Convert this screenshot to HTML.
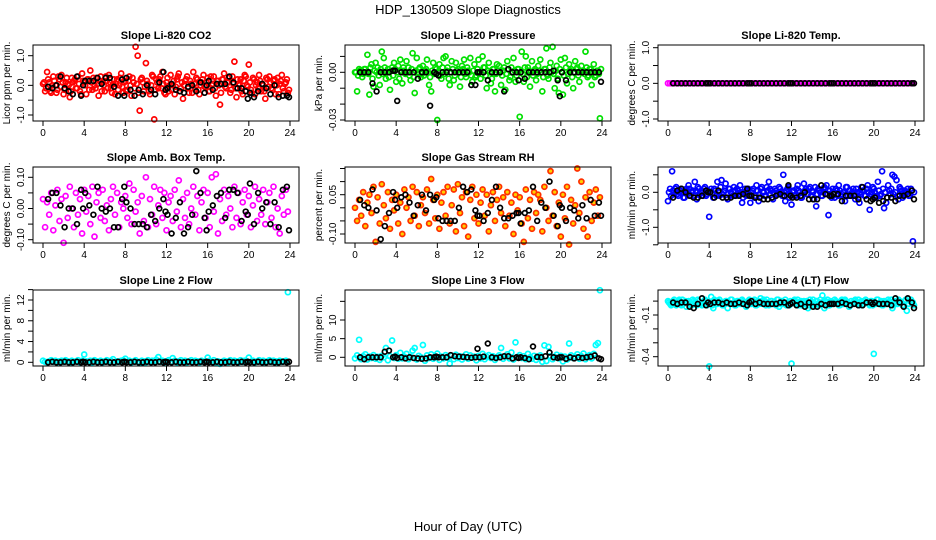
<!DOCTYPE html>
<html><head><meta charset="utf-8"><style>
html,body{margin:0;padding:0;background:#fff;}
svg{display:block;font-family:"Liberation Sans",Arial,sans-serif;}
</style></head><body>
<svg id="chart" width="936" height="540" viewBox="0 0 936 540">
<text x="468" y="14" text-anchor="middle" font-size="13">HDP_130509  Slope Diagnostics</text>
<text x="468" y="531" text-anchor="middle" font-size="13">Hour of Day (UTC)</text>
</svg>
<script>
// shared hours
const cH=[0,0.2,0.4,0.6,0.8,1,1.2,1.4,1.6,1.8,2,2.2,2.4,2.6,2.8,3,3.2,3.4,3.6,3.8,4,4.2,4.4,4.6,4.8,5,5.2,5.4,5.6,5.8,6,6.2,6.4,6.6,6.8,7,7.2,7.4,7.6,7.8,8,8.2,8.4,8.6,8.8,9,9.2,9.4,9.6,9.8,10,10.2,10.4,10.6,10.8,11,11.2,11.4,11.6,11.8,12,12.2,12.4,12.6,12.8,13,13.2,13.4,13.6,13.8,14,14.2,14.4,14.6,14.8,15,15.2,15.4,15.6,15.8,16,16.2,16.4,16.6,16.8,17,17.2,17.4,17.6,17.8,18,18.2,18.4,18.6,18.8,19,19.2,19.4,19.6,19.8,20,20.2,20.4,20.6,20.8,21,21.2,21.4,21.6,21.8,22,22.2,22.4,22.6,22.8,23,23.2,23.4,23.6,23.8];
const cH2=[0.1,0.3,0.5,0.7,0.9,1.1,1.3,1.5,1.7,1.9,2.1,2.3,2.5,2.7,2.9,3.1,3.3,3.5,3.7,3.9,4.1,4.3,4.5,4.7,4.9,5.1,5.3,5.5,5.7,5.9,6.1,6.3,6.5,6.7,6.9,7.1,7.3,7.5,7.7,7.9,8.1,8.3,8.5,8.7,8.9,9.1,9.3,9.5,9.7,9.9,10.1,10.3,10.5,10.7,10.9,11.1,11.3,11.5,11.7,11.9,12.1,12.3,12.5,12.7,12.9,13.1,13.3,13.5,13.7,13.9,14.1,14.3,14.5,14.7,14.9,15.1,15.3,15.5,15.7,15.9,16.1,16.3,16.5,16.7,16.9,17.1,17.3,17.5,17.7,17.9,18.1,18.3,18.5,18.7,18.9,19.1,19.3,19.5,19.7,19.9,20.1,20.3,20.5,20.7,20.9,21.1,21.3,21.5,21.7,21.9,22.1,22.3,22.5,22.7,22.9,23.1,23.3,23.5,23.7,23.9];
const bH=[0.5,0.9,1.3,1.7,2.1,2.5,2.9,3.3,3.7,3.9,4.1,4.5,4.9,5.3,5.7,6.1,6.5,6.9,7.3,7.7,7.9,8.1,8.5,8.9,9.3,9.7,10.1,10.5,10.9,11.3,11.7,11.9,12.1,12.5,12.9,13.3,13.7,14.1,14.5,14.9,15.3,15.7,15.9,16.1,16.5,16.9,17.3,17.7,18.1,18.5,18.9,19.3,19.7,19.9,20.1,20.5,20.9,21.3,21.7,22.1,22.5,22.9,23.3,23.7,23.9];
const xTicks=[0,4,8,12,16,20,24];

const co2=[0.05,-0.2,0.45,0.1,-0.25,0.3,0.0,-0.15,0.2,0.35,-0.3,0.1,0.05,-0.4,0.25,0.15,-0.1,0.3,-0.2,0.4,0.1,-0.3,0.2,0.5,-0.15,0.0,0.25,-0.35,0.3,0.1,-0.2,0.15,0.35,-0.1,0.05,-0.3,0.2,0.0,0.4,-0.25,0.15,-0.15,0.3,-0.35,0.1,1.3,1.0,-0.85,0.25,-0.2,0.75,0.05,-0.3,0.35,-1.15,0.2,-0.1,0.3,0.45,-0.25,0.1,-0.2,0.35,0.0,-0.3,0.2,0.4,-0.1,-0.45,0.15,0.3,-0.25,0.05,0.45,-0.15,0.2,-0.3,0.1,0.35,-0.05,0.25,-0.2,0.0,0.3,-0.35,0.15,-0.65,0.2,0.4,-0.1,0.1,-0.25,0.3,0.8,-0.4,0.05,0.2,-0.3,0.35,0.0,0.7,-0.15,0.25,-0.3,0.1,0.35,-0.2,0.0,-0.45,0.2,0.3,-0.1,0.15,-0.3,0.25,0.05,0.35,-0.2,0.1,-0.25];
const co2B=[0.1,-0.1,0.2,-0.2,0.0,0.15,-0.25,0.3,-0.05,0.1,-0.15,0.25,0.0,-0.2,0.1,0.2,-0.1,0.05,-0.3,0.15,0.0,0.2,-0.15,0.1,0.25,-0.1,0.05,0.15,-0.2,0.0,0.3,-0.1,0.1,-0.25,0.2,0.05,-0.15,0.25,-0.05,0.1,-0.2,0.15,0.0,0.25,-0.1,0.05,-0.25,0.2,0.1,-0.05,0.15,-0.2,0.0,0.3,-0.15,0.1,0.2,-0.1,0.05,-0.3,0.25,0.0,-0.15,0.15,-0.05,0.3,-0.2,0.1,0.0,0.2,-0.1,0.15,-0.25,0.05,0.25,-0.15,0.0,0.2,-0.05,0.1,-0.2,0.3,0.05,-0.1,0.15,0.0,-0.25,0.2,-0.05,0.1,0.25,-0.15,0.05,-0.1,0.2,0.0,-0.2,0.15,0.3,-0.05,0.1,-0.25,0.2,0.0,-0.1,0.15,0.05,-0.2,0.25,-0.05,0.1,-0.15,0.2,0.0,-0.3,0.15,-0.1,0.05,0.2,-0.15];
const co2K=[-0.05,-0.1,0.0,0.3,-0.1,-0.2,-0.3,0.3,-0.35,0.0,0.15,0.15,0.15,0.25,0.05,0.25,0.25,-0.05,-0.35,0.2,-0.35,0.25,-0.15,-0.35,-0.15,-0.3,0.0,-0.15,-0.3,0.1,0.45,-0.15,-0.1,0.05,-0.15,-0.2,-0.25,-0.05,0.0,-0.2,0.1,-0.25,0.0,0.15,-0.15,0.05,0.05,0.05,0.3,0.1,-0.1,-0.1,-0.2,-0.45,-0.25,-0.4,-0.2,0.05,-0.1,-0.3,0.0,-0.4,-0.35,-0.35,-0.4];
const pres=[0.0,-0.012,0.002,0.001,-0.001,0.002,0.011,-0.014,0.005,-0.009,0.006,0.003,-0.008,0.013,0.009,-0.004,0.002,-0.011,0.003,0.006,-0.006,0.004,0.008,-0.007,0.001,0.007,0.003,-0.005,0.012,-0.013,0.009,0.002,-0.003,0.004,0.001,0.008,-0.008,-0.012,0.006,0.003,-0.030,0.005,-0.004,0.009,0.010,0.003,-0.008,0.007,-0.005,0.006,0.002,-0.009,0.004,0.008,-0.003,0.001,0.009,-0.006,0.005,-0.002,0.008,-0.004,0.010,0.003,-0.010,0.006,-0.007,0.002,-0.012,0.005,0.004,-0.008,0.001,-0.011,0.007,-0.005,0.003,0.009,-0.006,0.002,-0.028,0.013,-0.006,0.010,0.003,-0.009,0.007,0.001,-0.005,0.004,0.008,-0.012,0.002,0.015,-0.004,0.006,0.016,-0.010,0.004,-0.013,0.008,-0.014,0.009,-0.007,0.005,0.002,-0.010,0.007,0.003,-0.006,0.004,0.001,0.013,-0.003,0.002,-0.008,0.005,-0.002,0.001,-0.029];
const presB=[0.0,-0.002,0.001,-0.003,0.002,0.0,-0.001,0.003,-0.004,0.001,0.0,-0.002,0.002,-0.001,0.003,0.0,-0.003,0.001,-0.002,0.002,0.0,-0.004,0.001,0.003,-0.001,0.0,-0.002,0.002,-0.003,0.001,0.0,0.003,-0.001,-0.002,0.002,0.0,-0.003,0.001,-0.001,0.002,0.0,-0.002,0.003,-0.001,0.001,-0.004,0.0,0.002,-0.002,0.001,0.0,-0.003,0.002,-0.001,0.003,0.0,-0.002,0.001,-0.003,0.002,0.0,-0.001,0.003,-0.002,0.001,0.0,-0.004,0.002,-0.001,0.001,0.0,-0.002,0.003,-0.001,0.002,-0.003,0.0,0.001,-0.002,0.002,0.0,-0.001,0.003,-0.003,0.001,0.0,-0.002,0.002,-0.001,0.001,0.0,-0.003,0.002,-0.002,0.003,0.0,-0.001,0.001,-0.004,0.002,0.0,-0.002,0.003,-0.001,0.001,-0.003,0.0,0.002,-0.002,0.001,0.0,-0.001,0.003,-0.002,0.002,0.0,-0.003,0.001,-0.001,0.002];
const presK=[0.0,0.0,0.0,-0.007,-0.012,0.0,0.0,0.0,0.001,0.001,-0.018,0.0,0.0,0.0,0.0,-0.004,0.0,0.0,-0.021,0.0,-0.001,-0.002,0.0,0.0,0.0,0.0,0.0,0.0,0.0,-0.008,-0.008,0.0,0.0,0.0,-0.005,0.0,0.0,0.0,-0.012,0.002,0.0,0.0,-0.005,0.0,-0.004,0.0,0.0,0.0,0.0,0.0,0.0,0.001,-0.005,-0.015,0.0,-0.005,0.0,0.0,0.0,0.0,0.0,0.0,0.0,0.0,-0.006,0.005];
const temp=[0,0,0,0,0,0,0,0,0,0,0,0,0,0,0,0,0,0,0,0,0,0,0,0,0,0,0,0,0,0,0,0,0,0,0,0,0,0,0,0,0,0,0,0,0,0,0,0,0,0,0,0,0,0,0,0,0,0,0,0,0,0,0,0,0,0,0,0,0,0,0,0,0,0,0,0,0,0,0,0,0,0,0,0,0,0,0,0,0,0,0,0,0,0,0,0,0,0,0,0,0,0,0,0,0,0,0,0,0,0,0,0,0,0,0,0,0,0,0,0];
const tempK=[0,0,0,0,0,0,0,0,0,0,0,0,0,0,0,0,0,0,0,0,0,0,0,0,0,0,0,0,0,0,0,0,0,0,0,0,0,0,0,0,0,0,0,0,0,0,0,0,0,0,0,0,0,0,0,0,0,0,0,0,0,0,0,0,0];
const amb=[0.03,-0.06,0.02,-0.02,0.05,-0.07,0.01,0.06,-0.04,0.03,-0.11,0.04,-0.03,0.07,0.0,-0.06,0.05,-0.02,0.03,-0.08,0.06,-0.01,0.04,-0.05,0.07,-0.09,0.02,0.05,-0.03,0.06,-0.04,0.01,-0.07,0.03,0.07,-0.02,0.05,-0.06,0.02,0.0,0.04,-0.03,0.08,-0.05,0.06,-0.01,0.02,-0.08,0.04,-0.04,0.10,-0.06,0.03,-0.02,0.07,-0.05,0.01,0.06,-0.03,0.05,-0.07,0.02,0.04,-0.04,0.06,-0.01,0.09,-0.06,0.03,-0.03,0.05,-0.05,0.0,0.07,-0.02,0.04,-0.07,0.02,0.06,-0.03,0.05,-0.06,0.10,-0.01,0.11,-0.08,0.03,-0.04,0.06,-0.02,0.04,0.0,-0.06,0.07,-0.03,0.05,-0.05,0.02,0.06,-0.02,0.04,-0.06,0.01,0.07,-0.04,0.03,-0.02,0.06,-0.05,0.02,0.05,-0.03,0.07,-0.06,0.0,-0.08,0.04,-0.02,0.06,-0.01];
const ambK=[0.03,0.05,0.05,0.01,-0.06,0.0,0.0,-0.05,0.06,0.0,0.05,0.01,-0.02,0.07,0.0,-0.01,0.0,-0.06,-0.06,0.03,0.07,0.02,0.0,-0.05,-0.05,-0.05,-0.06,-0.02,-0.04,0.0,0.03,-0.01,-0.02,-0.08,-0.03,0.02,-0.08,-0.06,-0.02,0.12,0.05,-0.03,-0.07,-0.01,0.01,0.04,0.05,-0.03,0.06,0.06,0.05,-0.04,-0.01,-0.02,0.08,-0.05,0.05,0.0,0.02,-0.05,0.02,-0.06,0.06,0.07,-0.07];
const rh=[0.0,-0.05,0.03,-0.03,0.06,-0.07,0.02,0.05,-0.02,0.08,-0.13,0.04,-0.06,0.09,0.01,-0.04,0.06,-0.08,0.03,-0.01,0.05,-0.06,0.02,-0.10,0.07,0.0,0.04,-0.05,0.08,-0.03,0.06,-0.07,0.01,0.04,-0.02,0.07,-0.06,0.11,0.03,-0.04,0.05,-0.08,0.02,0.06,-0.03,0.08,-0.06,0.01,0.07,-0.09,0.09,-0.02,0.04,-0.07,0.06,-0.11,0.03,0.08,-0.04,0.05,-0.06,0.02,0.07,-0.03,0.05,-0.09,0.01,0.06,-0.05,0.03,0.08,-0.02,0.04,-0.07,0.06,-0.03,0.02,-0.10,0.05,-0.01,0.04,-0.06,-0.13,0.07,-0.04,0.03,-0.08,0.06,-0.02,0.05,0.03,-0.09,0.08,0.0,-0.05,0.14,-0.03,0.06,-0.07,0.02,-0.11,0.05,-0.04,0.08,-0.14,0.03,-0.06,0.01,0.15,-0.02,0.10,-0.08,0.04,-0.11,0.06,-0.05,0.02,0.07,-0.03,0.04];
const rhK=[0.03,0.01,0.0,0.07,-0.01,-0.12,-0.07,-0.02,0.06,0.03,0.0,0.04,0.05,0.02,-0.03,0.01,0.05,-0.01,0.05,0.03,0.04,-0.04,-0.05,-0.05,-0.05,-0.05,0.0,0.08,0.06,0.07,-0.01,-0.03,-0.03,-0.05,-0.02,0.03,0.08,0.0,-0.04,-0.04,-0.03,-0.02,-0.02,-0.06,-0.02,-0.01,0.08,-0.05,0.02,0.0,0.1,-0.03,-0.07,0.01,0.0,-0.05,0.0,-0.01,-0.04,0.01,-0.04,0.03,-0.03,0.02,-0.03];
const flow=[-0.25,0.1,0.6,-0.05,0.15,-0.1,0.05,0.0,-0.15,0.1,0.2,-0.1,0.05,0.3,-0.2,0.1,0.0,-0.1,0.15,-0.05,-0.7,0.1,-0.15,0.05,0.3,-0.1,0.35,0.0,0.25,-0.2,0.1,-0.05,0.15,-0.1,0.05,0.2,-0.3,0.0,-0.1,0.1,-0.3,0.05,-0.15,0.2,-0.25,0.1,0.0,-0.1,0.15,0.3,0.05,-0.2,0.1,-0.05,0.15,0.0,0.5,-0.25,0.1,-0.15,-0.35,0.05,-0.1,0.2,0.0,-0.15,0.25,0.1,-0.05,0.15,0.05,-0.2,-0.4,0.1,0.0,-0.1,0.15,0.2,-0.65,-0.05,0.1,-0.15,0.05,0.2,-0.1,0.0,-0.25,0.15,0.05,-0.1,0.1,-0.2,0.0,-0.3,0.15,0.05,-0.1,0.2,-0.5,0.0,0.1,-0.15,0.3,-0.1,0.6,-0.45,-0.3,0.2,-0.05,0.5,0.45,0.35,-0.2,0.1,-0.15,0.05,0.0,-0.1,0.1,-1.4];
const flowB=[0.0,-0.1,0.05,0.1,-0.05,0.0,0.1,-0.15,0.05,-0.05,0.1,0.0,-0.1,0.05,0.15,-0.05,0.0,0.1,-0.1,0.05,0.0,-0.05,0.1,-0.1,0.0,0.15,-0.05,0.05,-0.15,0.1,0.0,-0.1,0.05,0.1,-0.05,0.0,-0.15,0.1,0.05,-0.05,0.0,0.1,-0.1,0.05,-0.05,0.15,0.0,-0.1,0.05,0.1,-0.15,0.0,0.05,-0.05,0.1,-0.1,0.0,0.05,0.15,-0.05,0.0,-0.1,0.1,0.05,-0.15,0.0,0.05,-0.05,0.1,-0.1,0.0,0.15,-0.05,0.05,-0.1,0.0,0.1,-0.05,0.05,-0.15,0.0,0.1,-0.1,0.05,-0.05,0.0,0.15,-0.1,0.05,0.0,-0.05,0.1,-0.15,0.0,0.05,-0.1,0.1,0.0,-0.05,0.15,0.0,-0.1,0.05,-0.05,0.1,0.0,-0.15,0.05,0.1,-0.05,0.0,-0.1,0.15,0.05,-0.05,0.0,0.1,-0.1,0.05,0.0];
const flowK=[-0.15,0.05,0.1,0.0,-0.1,-0.15,-0.15,-0.1,0.05,0.0,0.0,-0.15,0.05,-0.15,-0.15,-0.15,-0.1,-0.1,-0.05,0.1,-0.1,-0.1,-0.15,-0.15,-0.2,-0.2,-0.15,-0.1,-0.05,-0.1,0.2,-0.1,-0.15,-0.15,-0.1,0.0,-0.2,-0.2,-0.2,0.2,-0.05,-0.1,-0.1,-0.05,-0.05,-0.25,-0.1,-0.1,-0.1,-0.2,0.15,-0.2,-0.25,-0.2,-0.15,-0.3,-0.25,-0.15,-0.15,-0.25,-0.1,-0.1,-0.05,0.05,-0.2];
const line2=[0.3,0.1,0.0,0.2,0.4,0.1,0.3,0.0,0.2,0.3,0.1,0.4,0.2,0.0,0.3,0.1,0.2,0.4,0.0,0.3,1.5,0.2,0.1,0.3,0.0,0.4,0.2,0.1,0.3,0.0,0.2,0.4,0.1,0.3,0.6,0.0,0.2,0.1,0.3,0.4,0.7,0.1,0.3,0.0,0.2,0.4,0.1,-0.2,0.3,0.2,0.0,0.4,0.1,0.3,0.2,0.5,1.0,0.1,0.3,0.0,0.2,0.4,0.1,0.8,0.3,0.0,0.2,0.4,0.1,0.3,0.0,0.2,0.4,0.1,0.3,0.2,0.0,0.3,0.1,0.2,0.9,0.3,0.1,0.4,0.0,0.2,-0.3,0.1,0.3,0.2,0.0,0.4,0.1,0.3,0.2,0.0,0.4,0.1,0.3,0.2,0.9,0.1,0.3,0.0,0.2,0.4,0.1,0.3,0.0,0.2,0.4,0.1,0.3,0.2,0.0,0.3,0.1,0.2,0.3,13.5];
const line2K=[0.0,0.1,0.0,0.0,0.1,0.0,0.0,0.1,0.0,0.1,0.0,0.0,0.1,0.0,0.0,0.1,0.0,0.0,0.1,0.0,0.1,0.0,0.0,0.1,0.0,0.0,0.1,0.0,0.0,0.1,0.0,0.1,0.0,0.0,0.1,0.0,0.0,0.1,0.0,0.0,0.1,0.0,0.1,0.0,0.0,0.1,0.0,0.0,0.1,0.0,0.0,0.1,0.0,0.1,0.0,0.0,0.1,0.0,0.0,0.1,0.0,0.0,0.1,0.0,0.1];
const line3=[-0.3,0.5,4.7,-0.5,0.3,0.8,-0.6,0.2,-0.2,0.6,-0.4,0.1,-0.7,0.4,0.0,2.5,-0.8,0.3,4.5,-0.2,0.6,-0.4,1.2,-0.3,0.2,0.9,-0.5,0.1,1.8,2.5,-0.6,0.4,0.0,3.3,-0.9,0.5,-0.2,0.8,-0.4,0.3,1.0,-0.7,0.2,-0.3,0.6,-0.1,-1.7,0.4,-0.5,0.7,-0.2,0.3,-0.6,0.1,0.8,-0.4,0.5,-0.1,0.2,-0.8,0.4,-0.3,0.9,-0.5,0.1,0.6,-0.2,0.3,-0.7,0.0,0.5,2.5,-0.4,0.2,0.8,-0.3,1.3,-0.6,4.0,0.1,0.6,-0.2,0.3,-0.5,0.9,0.0,-0.4,0.4,-0.7,0.2,0.5,-1.2,3.2,-1.0,2.8,0.3,-0.5,0.1,0.7,-0.3,0.4,-1.1,0.2,-0.6,3.7,0.5,-0.2,0.1,0.8,-0.4,0.3,1.0,-0.5,0.2,0.6,-0.3,0.9,3.3,3.8,18.0];
const line3K=[0.0,-0.5,0.0,0.0,0.0,0.0,1.5,1.8,0.0,0.2,-0.2,0.0,-0.3,0.0,-0.2,-0.3,-0.4,-0.3,0.0,0.0,0.2,0.0,0.0,0.0,0.6,0.3,0.2,0.1,0.0,-0.1,0.0,2.3,0.0,0.2,3.7,0.0,-0.2,0.0,0.3,0.3,-0.3,0.0,-0.2,0.0,-0.2,-0.5,2.9,0.1,0.0,0.3,1.3,0.0,-0.2,0.0,0.0,-0.4,0.0,-0.3,0.0,-0.2,0.0,0.2,0.5,-0.3,-0.5];
const line4=[0.0,-0.02,-0.01,0.01,-0.03,0.0,-0.02,0.01,-0.01,-0.04,0.0,-0.02,0.01,-0.01,-0.03,0.0,-0.02,-0.01,0.01,-0.03,-0.47,0.03,-0.05,0.0,-0.02,0.01,-0.01,-0.03,0.0,-0.05,-0.02,0.01,-0.01,-0.03,0.0,-0.02,0.01,-0.01,-0.04,0.0,-0.02,-0.01,0.01,-0.03,0.0,0.02,-0.02,-0.01,0.01,-0.03,0.0,-0.02,-0.01,0.01,-0.04,0.0,-0.02,0.01,-0.01,-0.03,-0.45,0.0,-0.02,0.01,-0.01,-0.03,0.0,-0.02,-0.05,0.01,-0.01,-0.03,0.0,-0.02,0.01,0.04,-0.05,-0.01,-0.03,0.0,-0.02,0.01,-0.01,-0.03,0.0,-0.02,0.01,-0.01,-0.04,0.0,-0.02,0.01,-0.01,-0.03,0.0,-0.02,0.01,-0.01,-0.03,0.0,-0.38,-0.02,0.01,-0.01,-0.03,0.0,-0.02,0.01,-0.01,-0.05,0.0,-0.02,0.01,-0.01,-0.03,0.0,-0.07,-0.02,0.01,-0.01];
const line4B=[-0.01,-0.03,0.0,-0.02,-0.01,0.01,-0.03,-0.02,0.0,-0.01,-0.02,-0.03,0.0,-0.01,0.01,-0.02,-0.03,-0.01,0.0,-0.02,-0.01,-0.03,0.01,-0.02,0.0,-0.01,-0.03,-0.02,0.0,-0.01,0.01,-0.02,-0.03,0.0,-0.01,-0.02,0.0,-0.03,-0.01,0.01,-0.02,0.0,-0.03,-0.01,-0.02,0.0,0.01,-0.03,-0.01,-0.02,0.0,-0.01,-0.03,0.01,-0.02,0.0,-0.01,-0.03,-0.02,0.0,-0.01,0.01,-0.02,-0.03,0.0,-0.01,-0.02,0.0,-0.03,-0.01,0.01,-0.02,0.0,-0.03,-0.01,-0.02,0.0,0.01,-0.03,-0.01,-0.02,0.0,-0.01,-0.03,0.01,-0.02,0.0,-0.01,-0.03,-0.02,0.0,-0.01,0.01,-0.02,-0.03,0.0,-0.01,-0.02,0.0,-0.03,-0.01,0.01,-0.02,0.0,-0.03,-0.01,-0.02,0.0,0.01,-0.03,-0.01,-0.02,0.0,-0.01,-0.03,0.01,-0.02,0.0,-0.01,-0.03];
const line4K=[-0.01,-0.02,-0.01,-0.01,-0.04,-0.05,-0.02,0.02,-0.03,-0.01,-0.02,-0.01,-0.01,-0.02,-0.01,-0.02,-0.02,-0.01,-0.02,-0.03,-0.01,0.0,-0.02,-0.01,-0.02,-0.02,-0.02,-0.02,-0.01,-0.01,-0.03,-0.02,-0.01,-0.03,-0.02,-0.04,-0.01,-0.04,-0.04,-0.02,-0.03,-0.02,-0.02,-0.02,-0.02,-0.01,-0.02,-0.03,-0.02,-0.03,-0.03,-0.01,-0.01,-0.02,-0.01,-0.02,-0.02,-0.02,-0.03,0.02,-0.01,-0.04,0.02,-0.01,-0.05];

const NS='http://www.w3.org/2000/svg';
const svg=document.getElementById('chart');
function mk(tag,attrs,parent){const e=document.createElementNS(NS,tag);for(const k in attrs)e.setAttribute(k,attrs[k]);(parent||svg).appendChild(e);return e;}

const colLeft=[33,345,658], rowTop=[45,167,290], W=266, H=76;
const panels=[
 {c:0,r:0,key:'co2',title:'Slope Li-820 CO2',yl:'Licor ppm per min.',col:'#ff0000',fill:'none',v:co2,v2:co2B,k:co2K,ref:[1,55.7,-1,115],ticks:[-1,-0.5,0,0.5,1],lab:{'-1':'-1.0','0':'0.0','1':'1.0'}},
 {c:1,r:0,key:'pressure',title:'Slope Li-820 Pressure',yl:'kPa per min.',col:'#00e000',fill:'none',v:pres,v2:presB,k:presK,ref:[0,72.3,-0.03,120],ticks:[0.01,0,-0.01,-0.02,-0.03],lab:{'0':'0.00','-0.03':'-0.03'}},
 {c:2,r:0,key:'temp',title:'Slope Li-820 Temp.',yl:'degrees C per min.',col:'#ff00ff',fill:'none',v:temp,v2:[],k:tempK,ref:[1,47.7,-1,119],ticks:[-1,-0.5,0,0.5,1],lab:{'-1':'-1.0','0':'0.0','1':'1.0'}},
 {c:0,r:1,key:'amb-box-temp',title:'Slope Amb. Box Temp.',yl:'degrees C per min.',col:'#ff00ff',fill:'none',v:amb,v2:[],k:ambK,ref:[0.1,177.3,-0.1,239.7],ticks:[-0.1,-0.05,0,0.05,0.1],lab:{'-0.1':'-0.10','0':'0.00','0.1':'0.10'}},
 {c:1,r:1,key:'gas-stream-rh',title:'Slope Gas Stream RH',yl:'percent per min.',col:'#ff3000',fill:'#ffd000',v:rh,v2:[],k:rhK,ref:[0.05,194.7,-0.1,234],ticks:[-0.1,-0.05,0,0.05,0.1,0.15],lab:{'0.05':'0.05','-0.1':'-0.10'}},
 {c:2,r:1,key:'sample-flow',title:'Slope Sample Flow',yl:'ml/min per min.',col:'#0000ff',fill:'none',v:flow,v2:flowB,k:flowK,ref:[0,192.3,-1,227.3],ticks:[0.5,0,-0.5,-1,-1.5],lab:{'0':'0.0','-1':'-1.0'}},
 {c:0,r:2,key:'line2-flow',title:'Slope Line 2 Flow',yl:'ml/min per min.',col:'#00ffff',fill:'none',v:line2,v2:[],k:line2K,ref:[0,362.3,12,300],ticks:[0,2,4,6,8,10,12,14],lab:{'0':'0','4':'4','8':'8','12':'12'}},
 {c:1,r:2,key:'line3-flow',title:'Slope Line 3 Flow',yl:'ml/min per min.',col:'#00ffff',fill:'none',v:line3,v2:[],k:line3K,ref:[0,357.3,10,320],ticks:[0,5,10,15],lab:{'0':'0','5':'5','10':'10'}},
 {c:2,r:2,key:'line4-flow',title:'Slope Line 4 (LT) Flow',yl:'ml/min per min.',col:'#00ffff',fill:'none',v:line4,v2:line4B,k:line4K,ref:[-0.1,315,-0.4,356.7],ticks:[0,-0.1,-0.2,-0.3,-0.4],lab:{'-0.1':'-0.1','-0.4':'-0.4'}}
];

panels.forEach(p=>{
  const L=colLeft[p.c], T=rowTop[p.r], B=T+H;
  const xs=h=>L+10+h*(247/24);
  const ys=v=>p.ref[1]+(v-p.ref[0])*(p.ref[3]-p.ref[1])/(p.ref[2]-p.ref[0]);
  const g=mk('g',{});
  
  
  const t=mk('text',{x:L+W/2,y:T-6,'text-anchor':'middle','font-size':11,'font-weight':'bold'},g);
  t.textContent=p.title;
  
  
  const cg=mk('g',{fill:p.fill,stroke:p.col,'stroke-width':1.7},g);
  
  
  const n=Math.min(cH.length,p.v.length);
  for(let i=0;i<n;i++){
    const c=mk('circle',{cx:xs(cH[i]).toFixed(1),cy:ys(p.v[i]).toFixed(1),r:2.5},cg);
    
    
  }
  const n2=Math.min(cH2.length,p.v2.length);
  for(let i=0;i<n2;i++){
    const c=mk('circle',{cx:xs(cH2[i]).toFixed(1),cy:ys(p.v2[i]).toFixed(1),r:2.5},cg);
    
    
  }
  const kg=mk('g',{fill:'none',stroke:'#000','stroke-width':1.7},g);
  
  
  const m=Math.min(bH.length,p.k.length);
  for(let i=0;i<m;i++){
    const c=mk('circle',{cx:xs(bH[i]).toFixed(1),cy:ys(p.k[i]).toFixed(1),r:2.4},kg);
    
    
  }
  const box=mk('rect',{x:L,y:T,width:W,height:H,fill:'none',stroke:'#000','stroke-width':1},g);
  
  
  mk('line',{x1:xs(0),x2:xs(24),y1:B,y2:B,stroke:'#000'},g);
  xTicks.forEach(h=>{
    mk('line',{x1:xs(h),x2:xs(h),y1:B,y2:B+5,stroke:'#000'},g);
    const tl=mk('text',{x:xs(h),y:B+15,'text-anchor':'middle','font-size':10},g);
    tl.textContent=h;
    
    
  });
  const yt=p.ticks.map(ys);
  mk('line',{x1:L,x2:L,y1:Math.min(...yt),y2:Math.max(...yt),stroke:'#000'},g);
  p.ticks.forEach(v=>{
    const y=ys(v);
    mk('line',{x1:L-5,x2:L,y1:y,y2:y,stroke:'#000'},g);
    const s=p.lab[String(v)];
    if(s){
      const tl=mk('text',{x:L-9,y:y,'text-anchor':'middle','font-size':10,transform:`rotate(-90 ${L-9} ${y})`},g);
      tl.textContent=s;
      
      
    }
  });
  const yy=T+H/2;
  const yl=mk('text',{x:L-23,y:yy,'text-anchor':'middle','font-size':10,transform:`rotate(-90 ${L-23} ${yy})`},g);
  yl.textContent=p.yl;
  
  
});
</script>
</body></html>
